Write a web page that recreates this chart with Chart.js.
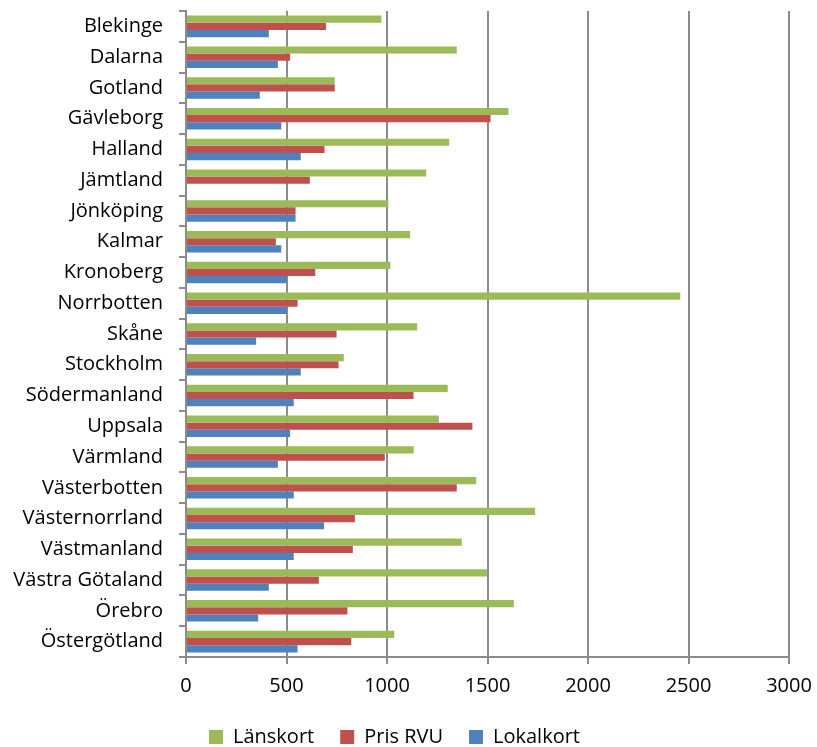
<!DOCTYPE html>
<html>
<head>
<meta charset="utf-8">
<script src="https://cdn.jsdelivr.net/npm/chart.js@4"></script>
<style>
  html, body { margin: 0; padding: 0; background: #fff; overflow: hidden; }
  #wrap { width: 817px; height: 747px; overflow: hidden; }
</style>
</head>
<body>
<div id="wrap"><canvas id="c" width="817" height="757"></canvas></div>
<script>
const regions = ["Blekinge", "Dalarna", "Gotland", "Gävleborg", "Halland", "Jämtland",
  "Jönköping", "Kalmar", "Kronoberg", "Norrbotten", "Skåne", "Stockholm",
  "Södermanland", "Uppsala", "Värmland", "Västerbotten", "Västernorrland",
  "Västmanland", "Västra Götaland", "Örebro", "Östergötland"];

const lanskort = [972, 1347, 740, 1604, 1309, 1195, 1007, 1115, 1017, 2459, 1150,
  785, 1302, 1258, 1133, 1444, 1737, 1372, 1497, 1631, 1036];
const prisRVU = [697, 518, 740, 1515, 689, 616, 545, 447, 643, 555, 749,
  759, 1132, 1425, 989, 1347, 840, 830, 661, 803, 822];
const lokalkort = [412, 457, 367, 474, 571, 0, 545, 474, 502, 502, 349,
  571, 536, 518, 457, 536, 687, 536, 412, 359, 555];

const xTicks = [0, 500, 1000, 1500, 2000, 2500, 3000];

const FONT = "'Open Sans', Lato, sans-serif";
const GRID = '#8c8c8c';

new Chart(document.getElementById('c'), {
  type: 'bar',
  data: {
    labels: regions,
    datasets: [
      { label: 'Länskort', data: lanskort, backgroundColor: '#9BBB59' },
      { label: 'Pris RVU', data: prisRVU, backgroundColor: '#C0504D' },
      { label: 'Lokalkort', data: lokalkort, backgroundColor: '#4F81BD' }
    ]
  },
  options: {
    indexAxis: 'y',
    responsive: false,
    animation: false,
    categoryPercentage: 0.7,
    barPercentage: 1.0,
    layout: { padding: { top: 11, right: 28, left: 0, bottom: 0 } },
    plugins: {
      legend: {
        position: 'bottom',
        labels: {
          boxWidth: 14, boxHeight: 14, padding: 26,
          color: '#000', font: { family: FONT, size: 20 }
        }
      },
      tooltip: { enabled: false }
    },
    scales: {
      x: {
        min: 0, max: 3000,
        afterBuildTicks: (s) => { s.ticks = xTicks.map(v => ({ value: v })); },
        afterFit: (s) => { s.height = 44; s.paddingLeft = 0; s.paddingRight = 0; },
        grid: { color: GRID, lineWidth: 2, tickLength: 7, drawTicks: true },
        border: { color: GRID, width: 2 },
        ticks: { color: '#000', padding: 10, font: { family: FONT, size: 20 }, maxRotation: 0,
                 callback: (v) => String(v) }
      },
      y: {
        afterFit: (s) => { s.width = 186; s.paddingTop = 0; s.paddingBottom = 0; },
        grid: { offset: true, drawOnChartArea: false, color: GRID, lineWidth: 2, tickLength: 7 },
        border: { color: GRID, width: 2 },
        ticks: { color: '#000', padding: 16, font: { family: FONT, size: 20 }, autoSkip: false }
      }
    }
  }
});
</script>
</body>
</html>
